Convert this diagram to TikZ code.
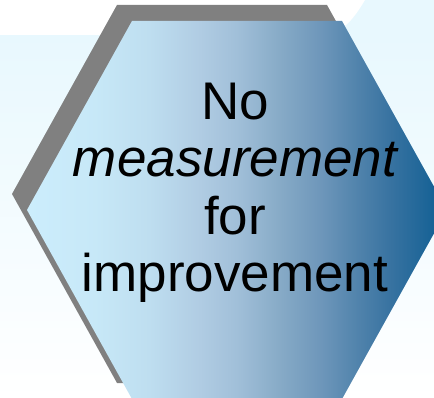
\documentclass[tikz,border=0pt]{standalone}
\usepackage{fontspec}
\setmainfont{Liberation Sans}
\definecolor{bgtop}{RGB}{232,248,254}
\definecolor{shadowgray}{RGB}{128,128,128}
\pgfdeclarehorizontalshading{hexshade}{100bp}{
  rgb(0bp)=(0.80,0.93,0.99);
  rgb(25bp)=(0.80,0.93,0.99);
  rgb(33bp)=(0.78,0.91,0.97);
  rgb(39.6bp)=(0.745,0.87,0.94);
  rgb(45.6bp)=(0.69,0.80,0.89);
  rgb(50bp)=(0.63,0.75,0.85);
  rgb(55bp)=(0.53,0.67,0.78);
  rgb(60bp)=(0.43,0.59,0.73);
  rgb(64.6bp)=(0.31,0.51,0.67);
  rgb(68.2bp)=(0.22,0.45,0.63);
  rgb(73bp)=(0.10,0.39,0.59);
  rgb(75bp)=(0.06,0.37,0.58);
  rgb(100bp)=(0.06,0.37,0.58)}
\tikzset{
  px/.style={x=1pt,y=-1pt},
  hextext/.style={anchor=base,inner sep=0pt,font=\fontsize{53}{57}\selectfont},
}
\begin{document}
\begin{tikzpicture}[px]
\useasboundingbox (0,0) rectangle (434,398);
\begin{scope}
\clip (0,0) rectangle (434,398);
% background
\shade[top color=bgtop,bottom color=white] (0,35) rectangle (434,398);
\fill[bgtop] (300,0) rectangle (434,35);
\fill[white] (0,0) -- (365,0) .. controls (352,22) and (340,35) .. (320,35) -- (0,35) -- cycle;
% shadow hexagon
\fill[shadowgray] (117,5) -- (327,5) -- (432,194) -- (327,383) -- (117,383) -- (12,194) -- cycle;
% main hexagon
\shade[shading=hexshade]
  (132,21) -- (342,21) -- (447,210) -- (342,399) -- (132,399) -- (27,210) -- cycle;
\end{scope}
\node[hextext] (l1) at (235,120) {No};
\node[hextext] (l2) at (235,177) {\itshape measurement};
\node[hextext] (l3) at (235,235) {for};
\node[hextext] (l4) at (235,291) {improvement};
\end{tikzpicture}
\end{document}
